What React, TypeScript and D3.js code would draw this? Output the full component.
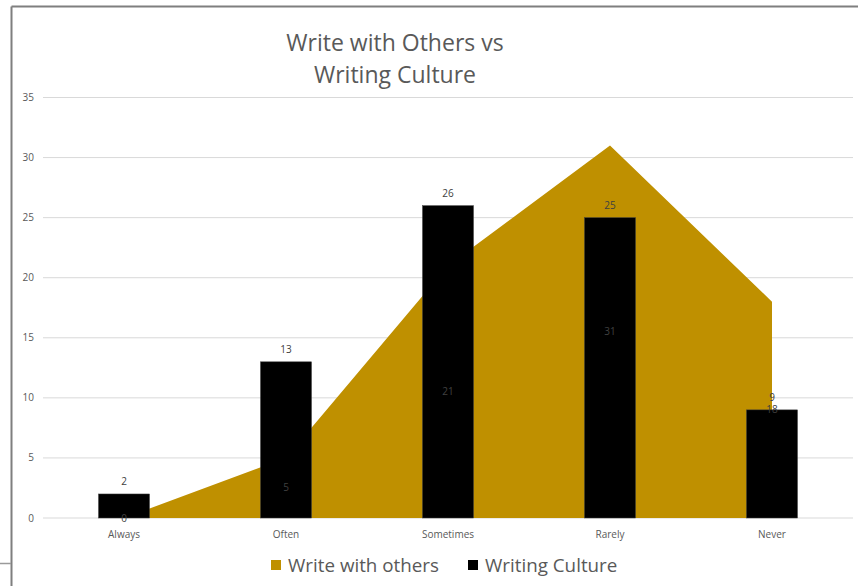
import React from "react";
import * as d3 from "d3";

const categories = ["Always", "Often", "Sometimes", "Rarely", "Never"];
const writeWithOthers = [0, 5, 21, 31, 18];
const writingCulture = [2, 13, 26, 25, 9];
const yTicks = [0, 5, 10, 15, 20, 25, 30, 35];
const titleLines = ["Write with Others vs", "Writing Culture"];
const seriesNames = ["Write with others", "Writing Culture"];

const GOLD = "#BF9000";
const TEXT = "#595959";
const FONT = "'Open Sans', Lato, sans-serif";

export default function App() {
  const W = 858, H = 586;
  const left = 43, right = 853, top = 97.5, bottom = 518;
  const x = d3.scaleBand<string>().domain(categories).range([left, right]).padding(0);
  const y = d3.scaleLinear().domain([0, 35]).range([bottom, top]);
  const cx = (c: string) => (x(c) as number) + x.bandwidth() / 2;
  const barW = 51;

  const area = d3
    .area<number>()
    .x((_, i) => cx(categories[i]))
    .y0(y(0))
    .y1((d) => y(d));

  return (
    <svg width={W} height={H} style={{ position: "absolute", left: 0, top: 0 }} fontFamily={FONT}>
      <rect x={0} y={0} width={W} height={H} fill="#fff" />
      {/* chart border */}
      <line x1={11.5} y1={6.5} x2={W} y2={6.5} stroke="#7f7f7f" strokeWidth={2} />
      <line x1={11.5} y1={6.5} x2={11.5} y2={H} stroke="#7f7f7f" strokeWidth={2} />
      <line x1={0} y1={563.5} x2={11} y2={563.5} stroke="#9a9a9a" strokeWidth={1.5} />

      {/* title */}
      {titleLines.map((t, i) => (
        <text key={t} x={395} y={51 + i * 32} textAnchor="middle" fontSize={23} fill={TEXT}>
          {t}
        </text>
      ))}

      {/* gridlines */}
      {yTicks.map((t) => (
        <g key={t}>
          <line x1={left} x2={right} y1={y(t)} y2={y(t)} stroke="#d9d9d9" strokeWidth={1} />
          <text x={34} y={y(t) + 3.5} textAnchor="end" fontSize={10} fill={TEXT}>
            {t}
          </text>
        </g>
      ))}

      {/* area */}
      <path d={area(writeWithOthers) || ""} fill={GOLD} />

      {/* bars */}
      {writingCulture.map((v, i) => (
        <rect
          key={categories[i]}
          x={cx(categories[i]) - barW / 2}
          y={y(v)}
          width={barW}
          height={y(0) - y(v)}
          fill="#000"
          stroke="#404040"
          strokeWidth={0.5}
        />
      ))}

      {/* area labels */}
      {writeWithOthers.map((v, i) => (
        <text key={"a" + i} x={cx(categories[i])} y={y(v / 2) + 3.5} textAnchor="middle" fontSize={10} fill="#404040">
          {v}
        </text>
      ))}

      {/* bar labels */}
      {writingCulture.map((v, i) => (
        <text key={"b" + i} x={cx(categories[i])} y={y(v) - 8.5} textAnchor="middle" fontSize={10} fill="#404040">
          {v}
        </text>
      ))}

      {/* x axis labels */}
      {categories.map((c) => (
        <text key={c} x={cx(c)} y={538} textAnchor="middle" fontSize={10} fill={TEXT}>
          {c}
        </text>
      ))}

      {/* legend */}
      <rect x={271} y={560} width={10} height={10} fill={GOLD} />
      <text x={288} y={572} fontSize={18.8} fill={TEXT}>
        {seriesNames[0]}
      </text>
      <rect x={468} y={560} width={10} height={10} fill="#000" />
      <text x={485} y={572} fontSize={18.8} fill={TEXT}>
        {seriesNames[1]}
      </text>
    </svg>
  );
}
